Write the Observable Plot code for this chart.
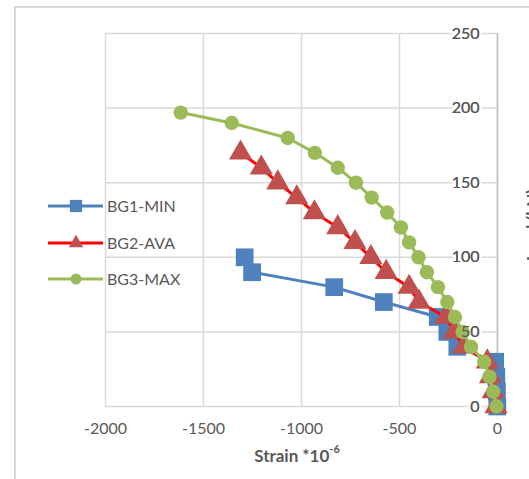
<!DOCTYPE html>
<html><head><meta charset="utf-8">
<script src="https://cdn.jsdelivr.net/npm/d3@7"></script>
<script src="https://cdn.jsdelivr.net/npm/@observablehq/plot@0.6"></script>
<style>
body{margin:0;background:#fff;overflow:hidden;font-family:Lato,"Open Sans",sans-serif}
#wrap{position:relative;width:529px;height:479px;overflow:hidden}
#frame{position:absolute;left:14px;top:6px;width:700px;height:700px;border-left:2px solid #d9d9d9;border-top:2px solid #d9d9d9}
#xtitle{position:absolute;left:0;width:594px;top:444px;text-align:center;font-weight:bold;font-size:17px;color:#595959}
#xtitle sup{font-size:11px;position:relative;top:-2px}
#ytitle{position:absolute;left:0;top:0;font-weight:bold;font-size:17px;color:#595959;white-space:nowrap;line-height:20px}
#legend{position:absolute;left:0;top:0}
</style>
</head><body><div id="wrap"><div id="frame"></div></div>
<script>
// ---- data ----
const seriesNames = ["BG1-MIN", "BG2-AVA", "BG3-MAX"];
const loadMin = [0, 10, 20, 30, 40, 50, 60, 70, 80, 90, 100];
const strainMin = [-1, -3, -6, -12, -205, -256, -305, -580, -833, -1252, -1290];
const loadAva = [0, 10, 20, 30, 40, 50, 60, 70, 80, 90, 100, 110, 120, 130, 140, 150, 160, 170];
const strainAva = [-8, -22, -36, -52, -172, -220, -264, -400, -451, -568, -646, -727, -815, -934, -1024, -1121, -1205, -1311];
const loadMax = [0, 10, 20, 30, 40, 50, 60, 70, 80, 90, 100, 110, 120, 130, 140, 150, 160, 170, 180, 190, 197];
const strainMax = [-5, -22, -41, -68, -135, -178, -217, -256, -304, -360, -403, -451, -493, -563, -642, -722, -815, -932, -1070, -1356, -1616];
const xTicks = [-2000, -1500, -1000, -500, 0];
const yTicks = [0, 50, 100, 150, 200, 250];

const lineColors = ["#4f81bd", "#ff0000", "#9bbb59"];
const markColors = ["#4f81bd", "#c0504d", "#9bbb59"];
const symbols = ["square", "triangle", "circle"];
const radii = [10, 8.6, 7.2];

const mk = (loads, strains) => loads.map((l, i) => ({load: l, strain: strains[i]}));
const tables = [mk(loadMin, strainMin), mk(loadAva, strainAva), mk(loadMax, strainMax)];

const seriesMarks = [];
tables.forEach((t, i) => {
  seriesMarks.push(Plot.line(t, {x: "strain", y: "load", stroke: lineColors[i], strokeWidth: 3}));
  seriesMarks.push(Plot.dot(t, {x: "strain", y: "load", symbol: () => symbols[i], r: radii[i], fill: markColors[i], stroke: "none"}));
});

const yLabelOpts = {x: () => 0, y: d => d, text: d => String(d), textAnchor: "end", dx: -18, fill: "#595959", fontSize: 16};

const chart = Plot.plot({
  width: 529, height: 479,
  marginLeft: 105, marginRight: 32, marginTop: 33, marginBottom: 73,
  style: {fontFamily: "Lato, 'Open Sans', sans-serif", fontSize: "16px", color: "#595959", background: "transparent", overflow: "visible"},
  x: {domain: [-2000, 0]},
  y: {domain: [0, 250], axis: null},
  symbol: {type: "identity"},
  marks: [
    Plot.gridX(xTicks, {stroke: "#d9d9d9", strokeOpacity: 1, strokeWidth: 1.5}),
    Plot.gridY(yTicks, {stroke: "#d9d9d9", strokeOpacity: 1, strokeWidth: 1.5}),
    Plot.ruleX([0], {stroke: "#bfbfbf", strokeWidth: 1.5}),
    Plot.axisX(xTicks, {tickSize: 0, tickPadding: 16, label: null, fill: "#595959", fontSize: 16, tickFormat: d => String(d)}),
    Plot.text(yTicks, {...yLabelOpts, stroke: "white", strokeWidth: 5}),
    ...seriesMarks,
    Plot.text(yTicks, yLabelOpts)
  ]
});
chart.style.position = "absolute";
chart.style.left = "0px";
chart.style.top = "0px";
const wrap = document.getElementById("wrap");
wrap.appendChild(chart);

// axis titles
const xt = document.createElement("div");
xt.id = "xtitle";
xt.innerHTML = "Strain *10<sup>-6</sup>";
wrap.appendChild(xt);
const yt = document.createElement("div");
yt.id = "ytitle";
yt.textContent = "Load (kN)";
wrap.appendChild(yt);
const w = yt.offsetWidth, h = yt.offsetHeight;
// centre of the rotated title at (533, 225)
yt.style.left = (533 - w / 2) + "px";
yt.style.top = (225 - h / 2) + "px";
yt.style.transform = "rotate(-90deg)";
yt.style.transformOrigin = "50% 50%";

// legend
const lg = d3.select(wrap).append("svg").attr("id", "legend").attr("width", 529).attr("height", 479);
const legY = [206, 243, 279];
const legSizes = [150, 90, 95];
seriesNames.forEach((name, i) => {
  const g = lg.append("g").attr("transform", `translate(0,${legY[i]})`);
  g.append("line").attr("x1", 48).attr("x2", 103).attr("y1", 0).attr("y2", 0)
    .attr("stroke", lineColors[i]).attr("stroke-width", 3);
  const sym = i === 0 ? d3.symbolSquare : i === 1 ? d3.symbolTriangle : d3.symbolCircle;
  g.append("path").attr("d", d3.symbol(sym, legSizes[i])()).attr("transform", "translate(76,0)")
    .attr("fill", markColors[i]);
  g.append("text").attr("x", 107).attr("y", 0).attr("dy", "0.35em").text(name)
    .attr("font-size", 16).attr("fill", "#595959").attr("font-family", "Lato, 'Open Sans', sans-serif");
});
</script></body></html>
